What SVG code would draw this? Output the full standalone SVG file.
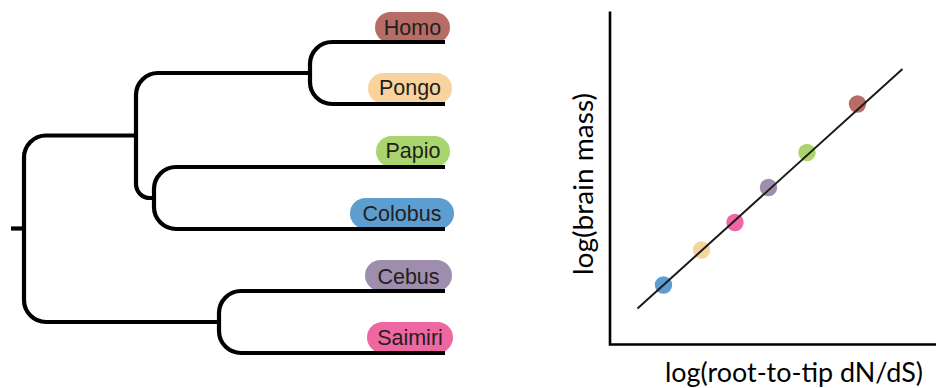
<svg xmlns="http://www.w3.org/2000/svg" width="936" height="388" viewBox="0 0 936 388">
<style>
.br{fill:none;stroke:#000;stroke-width:4.2;stroke-linecap:butt;stroke-linejoin:round}
.lbl{font-family:"Liberation Sans",Arial,sans-serif;font-size:21.5px;fill:#231f20;text-anchor:middle}
.ax{fill:none;stroke:#000;stroke-width:2.6}
.fit{fill:none;stroke:#1a1a1a;stroke-width:2}
.atxt{font-family:Lato,"Open Sans",sans-serif;font-size:27px;fill:#000;text-anchor:middle}
.homo{fill:#b76d65}.pongo{fill:#f9d39e}.papio{fill:#aad46e}.colobus{fill:#5e9dd0}.cebus{fill:#9e8dac}.saimiri{fill:#ee67a1}
</style>
<g id="tip-homo"><rect class="homo" x="375" y="12" width="75" height="31" rx="15.5"/><text class="lbl" x="412.5" y="35">Homo</text></g>
<g id="tip-pongo"><rect class="pongo" x="368" y="73" width="84" height="31" rx="15.5"/><text class="lbl" x="410" y="95">Pongo</text></g>
<g id="tip-papio"><rect class="papio" x="376" y="136" width="74" height="31" rx="15.5"/><text class="lbl" x="413" y="158">Papio</text></g>
<g id="tip-colobus"><rect class="colobus" x="350" y="198" width="104" height="31" rx="15.5"/><text class="lbl" x="402" y="221">Colobus</text></g>
<g id="tip-cebus"><rect class="cebus" x="365" y="260" width="87" height="31" rx="15.5"/><text class="lbl" x="408.5" y="284">Cebus</text></g>
<g id="tip-saimiri"><rect class="saimiri" x="367" y="322" width="86" height="31" rx="15.5"/><text class="lbl" x="410" y="345">Saimiri</text></g>
<g id="connectors">
<path class="br" d="M11 228.5 H26"/>
<path class="br" d="M138 135.5 H46 A22 22 0 0 0 24 157.5 V300 A22 22 0 0 0 46 322 H220"/>
<path class="br" d="M311 73 H158 A22 22 0 0 0 136 95 V184 A14 14 0 0 0 150 198 H155"/>
<path class="br" d="M445 42 H332 A22 22 0 0 0 310 64 V82 A22 22 0 0 0 332 104 H445"/>
<path class="br" d="M445 167 H176 A22 22 0 0 0 154 189 V207 A22 22 0 0 0 176 229 H445"/>
<path class="br" d="M445 291 H241 A22 22 0 0 0 219 313 V331 A22 22 0 0 0 241 353 H445"/>
</g>
<g id="plot">
<path class="ax" d="M610 11.5 V344.5 H936"/>
<g id="points">
<circle class="colobus" cx="663.5" cy="285" r="8.7"/>
<circle class="pongo" cx="701.5" cy="250" r="8.7"/>
<circle class="saimiri" cx="735" cy="222.5" r="8.7"/>
<circle class="cebus" cx="768.5" cy="187.5" r="8.7"/>
<circle class="papio" cx="807" cy="152.5" r="8.7"/>
<circle class="homo" cx="857.5" cy="104" r="8.7"/>
</g>
<path class="fit" d="M637.5 308.5 L902.5 69"/>
<text class="atxt" x="794" y="382" textLength="258" lengthAdjust="spacingAndGlyphs">log(root-to-tip dN/dS)</text>
<text class="atxt" transform="translate(593 184) rotate(-90)" x="0" y="0" textLength="182" lengthAdjust="spacingAndGlyphs">log(brain mass)</text>
</g>
</svg>
